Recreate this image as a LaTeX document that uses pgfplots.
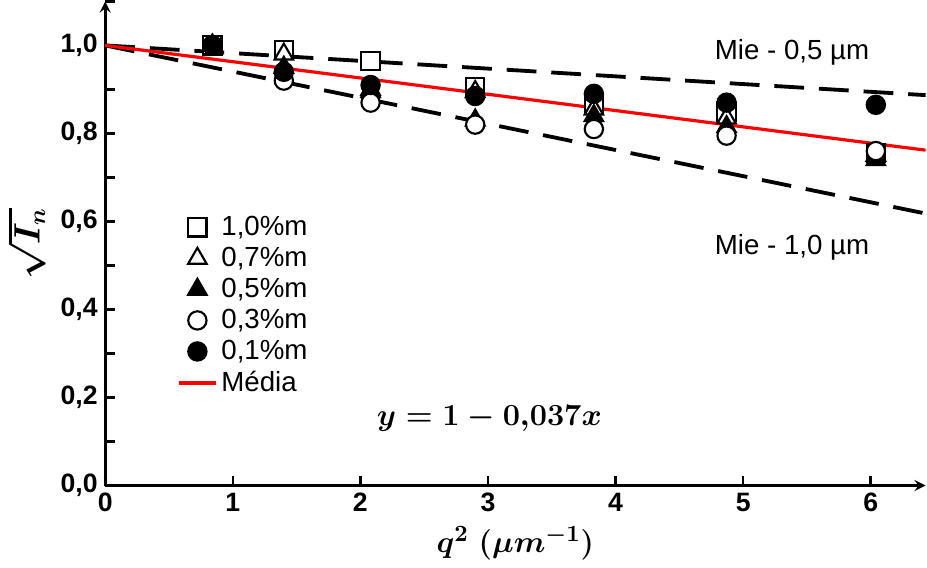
\documentclass[border=0pt]{standalone}
\usepackage{amsmath}
\usepackage{fontspec}
\setmainfont{Liberation Sans}
\usepackage{pgfplots}
\pgfplotsset{compat=1.18}

\begin{document}
\begin{tikzpicture}
\begin{axis}[
  scale only axis, width=385.5pt, height=227.5pt,
  xmin=0, xmax=6.43, ymin=0, ymax=1.1,
  axis lines=left,
  axis line style={line width=1.3pt},
  xtick={0,1,2,3,4,5,6},
  ytick={0,0.2,0.4,0.6,0.8,1.0},
  minor ytick={0.1,0.3,0.5,0.7,0.9,1.1},
  tick align=inside,
  major tick length=4.5pt, minor tick length=4.5pt,
  tick style={line width=1.2pt, black},
  /pgf/number format/assume math mode=true,
  tick label style={font=\bfseries\fontsize{12.5}{14}\selectfont},
  yticklabel style={/pgf/number format/fixed, /pgf/number format/fixed zerofill,
    /pgf/number format/precision=1, /pgf/number format/use comma},
  xlabel={$\boldsymbol{q^2\;(\mu m^{-1})}$},
  xlabel style={font=\fontsize{15}{17}\selectfont},
  ylabel={$\boldsymbol{\sqrt{I_n}}$},
  ylabel style={font=\fontsize{16}{18}\selectfont},
  legend style={draw=none, fill=none, at={(0.08,0.575)}, anchor=north west,
    font=\fontsize{13}{15}\selectfont},
  legend cell align=left,
]
\addplot[black, line width=1.8pt, dash pattern=on 14pt off 7pt, forget plot] coordinates {(0,1) (6.43,0.887)};
\addplot[black, line width=1.8pt, dash pattern=on 14pt off 7pt, forget plot] coordinates {(0,1) (6.43,0.618)};
\addplot[red, line width=1.5pt, forget plot] coordinates {(0,1) (6.43,0.762)};

\addplot[only marks, line width=1pt, mark=square*, mark options={fill=white, draw=black}, mark size=4.3pt] coordinates {
  (0.84,1.00) (1.40,0.99) (2.08,0.965) (2.90,0.905) (3.83,0.865) (4.87,0.85) (6.04,0.755)};
\addlegendentry{1,0\%m}
\addplot[only marks, line width=1pt, mark=triangle*, mark options={fill=white, draw=black}, mark size=5pt] coordinates {
  (0.84,1.00) (1.40,0.98) (2.08,0.90) (2.90,0.895) (3.83,0.855) (4.87,0.835) (6.04,0.75)};
\addlegendentry{0,7\%m}
\addplot[only marks, line width=1pt, mark=triangle*, mark options={fill=black, draw=black}, mark size=5pt] coordinates {
  (0.84,1.00) (1.40,0.95) (2.08,0.895) (2.90,0.83) (3.83,0.84) (4.87,0.815) (6.04,0.74)};
\addlegendentry{0,5\%m}
\addplot[only marks, line width=1pt, mark=*, mark options={fill=white, draw=black}, mark size=4.3pt] coordinates {
  (0.84,1.00) (1.40,0.92) (2.08,0.87) (2.90,0.82) (3.83,0.81) (4.87,0.795) (6.04,0.76)};
\addlegendentry{0,3\%m}
\addplot[only marks, line width=1pt, mark=*, mark options={fill=black, draw=black}, mark size=4.3pt] coordinates {
  (0.84,1.00) (1.40,0.94) (2.08,0.91) (2.90,0.885) (3.83,0.89) (4.87,0.87) (6.04,0.865)};
\addlegendentry{0,1\%m}
\addlegendimage{red, line width=1.5pt}
\addlegendentry{M\'edia}

\node[anchor=west, font=\fontsize{13}{15}\selectfont] at (axis cs:4.72,0.984) {Mie - 0,5 \symbol{181}m};
\node[anchor=west, font=\fontsize{13}{15}\selectfont] at (axis cs:4.72,0.541) {Mie - 1,0 \symbol{181}m};
\node[anchor=west, font=\fontsize{14.5}{16}\selectfont] at (axis cs:2.07,0.153) {$\boldsymbol{y=1-0{,}037x}$};
\end{axis}
\end{tikzpicture}
\end{document}
